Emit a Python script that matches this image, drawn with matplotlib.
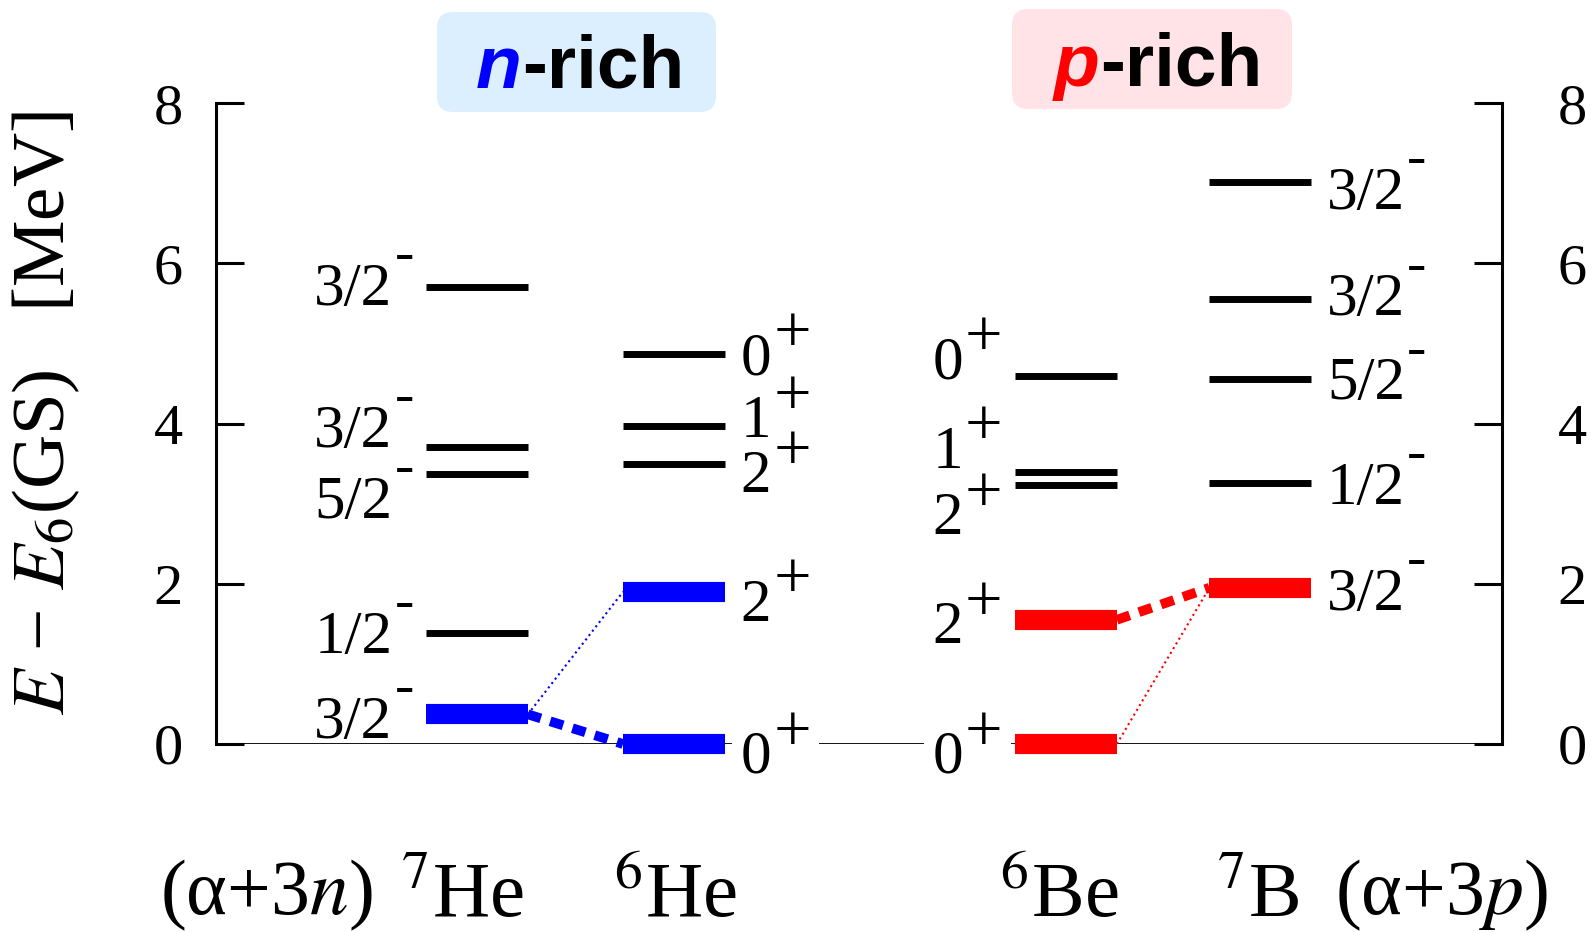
import matplotlib
matplotlib.use('Agg')
import matplotlib.pyplot as plt
from matplotlib.patches import FancyBboxPatch

plt.rcParams['font.family'] = ['Liberation Serif', 'DejaVu Serif']
plt.rcParams['mathtext.fontset'] = 'stix'

# level energies in MeV, measured from the 6-body ground state
he7_E = [0.37, 1.39, 3.37, 3.71, 5.70]
he7_J = ['3/2', '1/2', '5/2', '3/2', '3/2']
he6_E = [0.0, 1.90, 3.49, 3.97, 4.87]
he6_J = ['0', '2', '2', '1', '0']
be6_E = [0.0, 1.55, 3.23, 3.40, 4.59]
be6_J = ['0', '2', '2', '1', '0']
b7_E = [1.95, 3.26, 4.55, 5.55, 7.02]
b7_J = ['3/2', '1/2', '5/2', '3/2', '3/2']

nuclei = ['$^{7}$He', '$^{6}$He', '$^{6}$Be', '$^{7}$B']
channels = ['(α+3$n$)', '(α+3$p$)']
yticks = [0, 2, 4, 6, 8]

BLUE = '#0000ff'
RED = '#ff0000'

fig = plt.figure(figsize=(15.93, 9.32), dpi=100)
ax = fig.add_axes([216 / 1593, 188 / 932, 1286 / 1593, 641 / 932])
ax.set_xlim(0, 10)
ax.set_ylim(0, 8)

for s in ['top', 'bottom', 'right']:
    ax.spines[s].set_visible(False)
ax.spines['left'].set_linewidth(2.2)
ax.set_xticks([])
ax.set_yticks(yticks)
ax.tick_params(axis='y', direction='in', length=20, width=2.2, labelsize=42, pad=24)

ax2 = ax.twinx()
ax2.set_ylim(0, 8)
for s in ['top', 'bottom', 'left']:
    ax2.spines[s].set_visible(False)
ax2.spines['right'].set_linewidth(2.2)
ax2.set_yticks(yticks)
ax2.tick_params(axis='y', direction='in', length=20, width=2.2, labelsize=42, pad=40)

# thin threshold line at zero
ax.axhline(0, color='black', lw=1.3, zorder=1)

half = 0.395
cols = [
    # centre, energies, spins, parity, colour, n coloured, label side
    (2.03, he7_E, he7_J, '-', BLUE, 1, 'left'),
    (3.56, he6_E, he6_J, '+', BLUE, 2, 'right'),
    (6.61, be6_E, be6_J, '+', RED, 2, 'left'),
    (8.12, b7_E, b7_J, '-', RED, 1, 'right'),
]
# vertical nudges of the spin labels (MeV) so close levels don't collide
nudge = [
    [-0.03, 0.01, -0.29, 0.26, 0.04],
    [-0.10, -0.10, -0.09, 0.12, 0.0],
    [-0.10, -0.03, -0.35, 0.31, 0.23],
    [-0.02, 0.0, 0.01, 0.06, -0.08],
]


def level_label(xe, y, base, sup, side, boxed):
    sup_size = 48 if sup == '+' else 42
    sup_dy = 1 if sup == '+' else 10
    gap = 1.5
    # white boxes (drawn underneath) break the zero line around the label
    passes = [(5, 'black', None)]
    if boxed:
        passes.append((2, 'none', dict(fc='white', ec='none', pad=6)))
    for z, col, bb in passes:
        kw = dict(textcoords='offset points', va='baseline', color=col, bbox=bb,
                  zorder=z, annotation_clip=False)
        if side == 'right':
            t = ax.annotate(base, (xe, y), xytext=(11.5, -15), ha='left',
                            fontsize=44, **kw)
            ax.annotate(sup, (1, y), xycoords=(t, 'data'), xytext=(gap, sup_dy),
                        ha='left', fontsize=sup_size, **kw)
        else:
            s = ax.annotate(sup, (xe, y), xytext=(-9, sup_dy), ha='right',
                            fontsize=sup_size, **kw)
            ax.annotate(base, (0, y), xycoords=(s, 'data'), xytext=(-gap, -15),
                        ha='right', fontsize=44, **kw)


for k, (xc, E, J, par, col, ncol, side) in enumerate(cols):
    for i, (e, j) in enumerate(zip(E, J)):
        if i < ncol:
            ax.plot([xc - half, xc + half], [e, e], color=col, lw=14.5,
                    solid_capstyle='butt', clip_on=False, zorder=4)
        else:
            ax.plot([xc - half, xc + half], [e, e], color='black', lw=5,
                    solid_capstyle='butt', clip_on=False, zorder=4)
        xe = xc + half if side == 'right' else xc - half
        level_label(xe, e + nudge[k][i], j, par, side, boxed=(e == 0))

# connections between the ground states and the 6-body states
he7_r = cols[0][0] + half
he6_l = cols[1][0] - half
be6_r = cols[2][0] + half
b7_l = cols[3][0] - half
ax.plot([he7_r, he6_l], [he7_E[0], he6_E[0]], color=BLUE, lw=7,
        ls=(0, (1.4, 1.0)), dash_capstyle='butt', clip_on=False, zorder=3)
ax.plot([he7_r, he6_l], [he7_E[0], he6_E[1]], color=BLUE, lw=1.5, ls=':', zorder=3)
ax.plot([be6_r, b7_l], [be6_E[1], b7_E[0]], color=RED, lw=7,
        ls=(0, (1.4, 1.0)), dash_capstyle='butt', clip_on=False, zorder=3)
ax.plot([be6_r, b7_l], [be6_E[0], b7_E[0]], color=RED, lw=1.5, ls=':', zorder=3)

# overlay in pixel units for the headers and the outer labels
ov = fig.add_axes([0, 0, 1, 1])
ov.set_xlim(0, 1593)
ov.set_ylim(932, 0)
ov.axis('off')
ov.patch.set_visible(False)

ov.add_patch(FancyBboxPatch((437, 12), 279, 100, boxstyle='round,pad=0,rounding_size=16',
                            fc='#dcefff', ec='none'))
ov.add_patch(FancyBboxPatch((1012, 9), 280, 100, boxstyle='round,pad=0,rounding_size=16',
                            fc='#ffe3e6', ec='none'))
hdr = dict(fontsize=54, fontweight='bold', family='Liberation Sans', va='baseline')
ov.text(522, 88, 'n', color=BLUE, style='italic', ha='right', **hdr)
ov.text(522, 88, '-rich', color='black', ha='left', **hdr)
ov.text(1100, 86, 'p', color=RED, style='italic', ha='right', **hdr)
ov.text(1100, 86, '-rich', color='black', ha='left', **hdr)

ov.text(46, 413, r'$E$ − $E_{\mathit{6}}$(GS)   [MeV]', rotation=90, fontsize=54,
        ha='center', va='center')

for xp, lab in zip([462, 675, 1059, 1258], nuclei):
    ov.text(xp, 917, lab, fontsize=57, ha='center', va='baseline')
for xp, lab in zip([266, 1442], channels):
    ov.text(xp, 914, lab, fontsize=56, ha='center', va='baseline')

fig.savefig('out.png', dpi=100)
